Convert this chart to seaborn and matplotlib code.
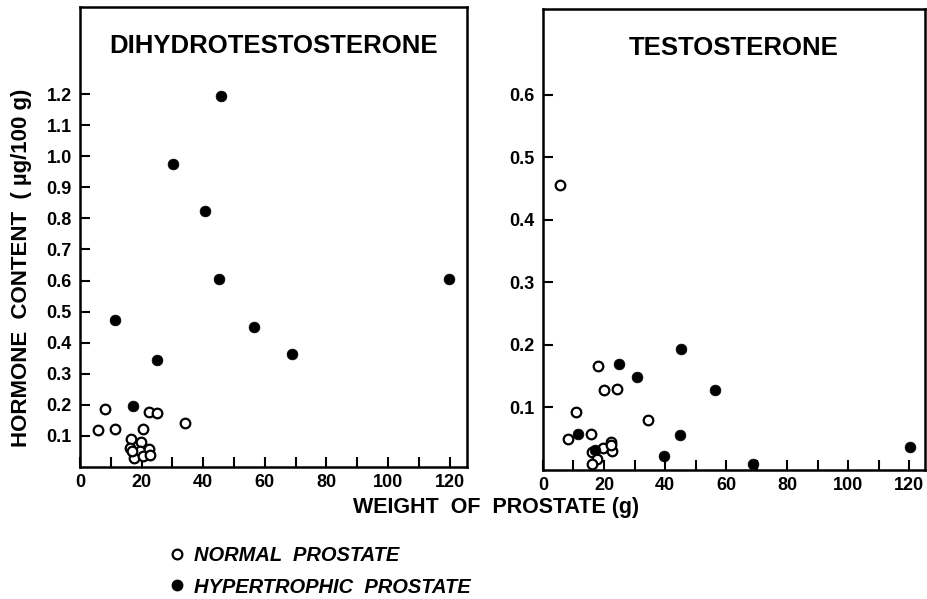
import pandas as pd
import seaborn as sns
import matplotlib.pyplot as plt
from matplotlib.lines import Line2D

# --- data (weight g, hormone ug/100 g) ---
dht_normal_x = [5.9, 8.1, 11.4, 16.5, 19.8, 16.2, 19.5, 22.5, 17.5, 20.6, 22.7, 20.6, 22.5, 25.1, 34.1, 16.8]
dht_normal_y = [0.118, 0.188, 0.122, 0.089, 0.081, 0.060, 0.052, 0.059, 0.030, 0.035, 0.038, 0.122, 0.177, 0.173, 0.141, 0.050]
dht_hyper_x = [45.7, 30.3, 40.6, 45.2, 119.9, 11.4, 56.5, 68.8, 24.9, 17.1]
dht_hyper_y = [1.194, 0.974, 0.823, 0.604, 0.604, 0.473, 0.449, 0.365, 0.345, 0.195]

t_normal_x = [5.65, 10.9, 8.05, 15.7, 18.0, 20.0, 24.2, 34.4, 16.0, 17.6, 16.0, 19.6, 22.3, 22.6, 22.4]
t_normal_y = [0.456, 0.093, 0.050, 0.058, 0.167, 0.128, 0.129, 0.080, 0.029, 0.018, 0.009, 0.035, 0.045, 0.030, 0.040]
t_hyper_x = [11.4, 17.1, 25.0, 30.7, 45.3, 45.0, 39.7, 56.3, 68.8, 120.4]
t_hyper_y = [0.057, 0.032, 0.169, 0.148, 0.193, 0.056, 0.023, 0.128, 0.010, 0.036]

dht_ticks = [0.1, 0.2, 0.3, 0.4, 0.5, 0.6, 0.7, 0.8, 0.9, 1.0, 1.1, 1.2]
t_ticks = [0.1, 0.2, 0.3, 0.4, 0.5, 0.6]
x_ticks = [0, 20, 40, 60, 80, 100, 120]

sns.set_style("ticks")
plt.rcParams['font.family'] = ['Liberation Sans', 'DejaVu Sans']
plt.rcParams['font.weight'] = 'bold'
plt.rcParams['text.color'] = 'black'
plt.rcParams['axes.labelcolor'] = 'black'
plt.rcParams['xtick.color'] = 'black'
plt.rcParams['ytick.color'] = 'black'

fig = plt.figure(figsize=(9.28, 5.99), dpi=100)
ax1 = fig.add_axes([0.0862, 0.2204, 0.4170, 0.7679])
ax2 = fig.add_axes([0.5851, 0.2154, 0.4117, 0.7696])


def panel(ax, nx, ny, hx, hy, title, yticks, xmax, ymax):
    sns.scatterplot(x=nx, y=ny, ax=ax, s=48, facecolor="white", edgecolor="black",
                    linewidth=1.6, zorder=3, clip_on=False)
    sns.scatterplot(x=hx, y=hy, ax=ax, s=60, color="black", edgecolor="black",
                    linewidth=0.5, zorder=4, clip_on=False)
    ax.set_xlim(0, xmax)
    ax.set_ylim(0, ymax)
    ax.set_xticks(x_ticks)
    ax.set_xticks(list(range(10, 121, 20)), minor=True)
    ax.set_xticklabels([str(t) for t in x_ticks], fontsize=13, fontweight="bold")
    ax.set_yticks(yticks)
    ax.set_yticklabels([f"{t:.1f}" for t in yticks], fontsize=13, fontweight="bold")
    ax.tick_params(which="both", direction="in", length=7, width=1.5, color="black")
    ax.tick_params(axis="x", which="both", pad=5)
    ax.tick_params(axis="y", pad=6)
    for sp in ax.spines.values():
        sp.set_linewidth(1.8)
        sp.set_color("black")
    ax.text(0.5, 0.915, title, transform=ax.transAxes, ha="center", va="center",
            fontsize=18.5, fontweight="bold")


panel(ax1, dht_normal_x, dht_normal_y, dht_hyper_x, dht_hyper_y,
      "DIHYDROTESTOSTERONE", dht_ticks, 125.6, 1.48)
panel(ax2, t_normal_x, t_normal_y, t_hyper_x, t_hyper_y,
      "TESTOSTERONE", t_ticks, 125.2, 0.737)

fig.text(0.023, 0.553, "HORMONE  CONTENT  ( µg/100 g)", rotation=90, ha="center",
         va="center", fontsize=16, fontweight="bold")
fig.text(0.535, 0.153, "WEIGHT  OF  PROSTATE (g)", ha="center", va="center",
         fontsize=15.5, fontweight="bold")

handles = [
    Line2D([], [], linestyle="none", marker="o", markersize=7, markerfacecolor="white",
           markeredgecolor="black", markeredgewidth=1.6),
    Line2D([], [], linestyle="none", marker="o", markersize=7.5, color="black"),
]
fig.legend(handles, ["NORMAL  PROSTATE", "HYPERTROPHIC  PROSTATE"],
           loc="upper left", bbox_to_anchor=(0.163, 0.118), frameon=False,
           handletextpad=0.4, handlelength=0.8, labelspacing=0.6,
           prop={"size": 14.5, "weight": "bold", "style": "italic"})

fig.savefig("out.png", dpi=100)
